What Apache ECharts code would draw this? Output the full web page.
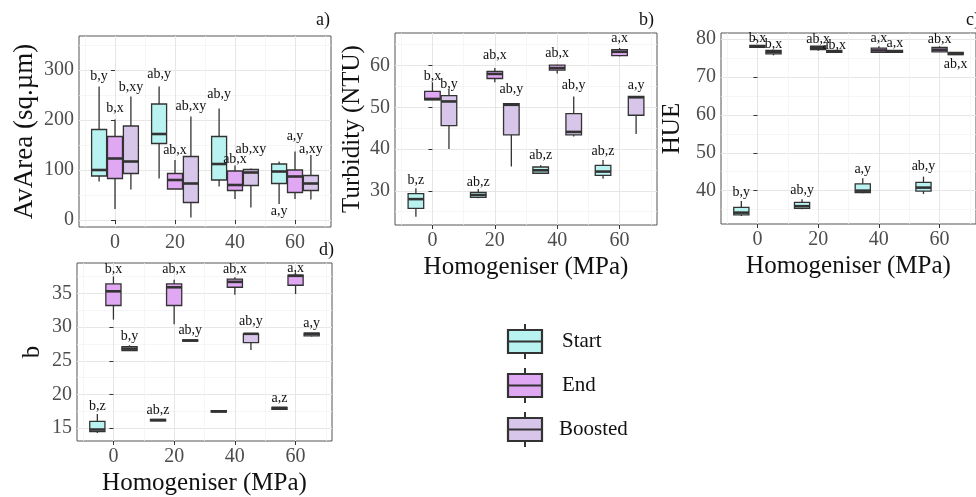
<!DOCTYPE html>
<html>
<head>
<meta charset="utf-8">
<script src="https://cdn.jsdelivr.net/npm/echarts@6/dist/echarts.min.js"></script>
<style>
html, body { margin: 0; padding: 0; background: #fff; }
#main { width: 976px; height: 497px; }
</style>
</head>
<body>
<div id="main"></div>
<script>
var pressures = [0, 20, 40, 60];
var xTicks = [0, 20, 40, 60];
var xMinor = [-10, 10, 30, 50, 70];
var groupNames = ['Start', 'End', 'Boosted'];
var groupColors = ['#b9f3f1', '#e0a7f3', '#d8c5ea'];

// box stats per pressure: [min, q1, median, q3, max]
// a) AvArea
var areaStart   = [[77, 88, 100, 181, 267], [83, 153, 172, 232, 267], [67, 80, 112, 167, 223], [32, 73, 97, 112, 117]];
var areaEnd     = [[22, 83, 123, 167, 201], [62, 62, 80, 93, 120], [42, 59, 70, 98, 109], [42, 55, 87, 100, 137]];
var areaBoosted = [[61, 93, 117, 188, 247], [5, 35, 73, 127, 207], [25, 69, 95, 101, 103], [41, 59, 73, 89, 130]];
var areaLabels  = [['b,y', 'ab,y', 'ab,y', 'a,y'], ['b,x', 'ab,x', 'ab,x', 'a,y'], ['b,xy', 'ab,xy', 'ab,xy', 'a,xy']];
var areaLabelY  = [[287, 292, 251, 18], [223, 140, 122, 168], [265, 228, 142, 142]];
var areaTicks = [0, 100, 200, 300];
var areaMinor = [50, 150, 250, 350];

// b) Turbidity
var turbStart   = [[23.8, 25.8, 28, 29.3, 30.6], [28.2, 28.4, 29, 29.6, 30.4], [34.1, 34.2, 34.9, 35.7, 36.1], [32.9, 33.7, 34.6, 36.1, 37.4]];
var turbEnd     = [[51.8, 51.8, 52, 53.8, 56], [56, 56.9, 58, 58.6, 59.4], [58.1, 58.9, 59.4, 60.1, 60.2], [62.2, 62.4, 63.3, 63.8, 64.2]];
var turbBoosted = [[40, 45.6, 51.4, 52.8, 54.4], [35.8, 43.4, 50.6, 50.9, 51], [43, 43.4, 44.1, 48.5, 52.6], [43.6, 48.1, 52.4, 52.6, 52.6]];
var turbLabels  = [['b,z', 'ab,z', 'ab,z', 'ab,z'], ['b,x', 'ab,x', 'ab,x', 'a,x'], ['b,y', 'ab,y', 'ab,y', 'a,y']];
var turbLabelY  = [[32.6, 32, 38.5, 39.4], [57.3, 62.4, 62.9, 66.6], [55.4, 54.2, 55.2, 55.2]];
var turbTicks = [30, 40, 50, 60];
var turbMinor = [25, 35, 45, 55, 65];

// c) HUE
var hueStart   = [[33.3, 33.6, 34.2, 35.6, 37.3], [35.1, 35.3, 35.9, 36.9, 37.7], [39.3, 39.5, 40, 41.8, 43.3], [39.1, 39.9, 40.8, 42.2, 43.7]];
var hueEnd     = [[77.8, 77.8, 78.1, 78.3, 78.3], [76.9, 77.2, 77.6, 78.1, 78.2], [76.5, 76.5, 77, 77.6, 78.1], [76.6, 76.6, 77.2, 77.8, 78.1]];
var hueBoosted = [[75.7, 76.1, 76.6, 77, 77.2], [76.5, 76.5, 76.7, 77, 77], [76.5, 76.5, 76.7, 77, 77], [75.9, 75.9, 76.1, 76.5, 76.5]];
var hueLabels  = [['b,y', 'ab,y', 'a,y', 'ab,y'], ['b,x', 'ab,x', 'a,x', 'ab,x'], ['b,x', 'ab,x', 'a,x', 'ab,x']];
var hueLabelY  = [[39.5, 40, 45.7, 46.3], [80.3, 79.8, 80.3, 79.8], [78.5, 78.3, 78.9, 73.4]];
var hueTicks = [40, 50, 60, 70, 80];
var hueMinor = [35, 45, 55, 65, 75];

// d) b
var bStart   = [[14.3, 14.5, 14.8, 16, 17.1], [16.1, 16.1, 16.2, 16.3, 16.3], [17.4, 17.4, 17.5, 17.6, 17.6], [17.8, 17.8, 18, 18.1, 18.1]];
var bEnd     = [[31.1, 33.2, 35.3, 36.4, 37.5], [30.4, 33.2, 35.9, 36.4, 37], [34.8, 35.9, 36.7, 37.1, 37.4], [34.9, 36.2, 37.6, 37.7, 38]];
var bBoosted = [[26.5, 26.5, 26.8, 27.1, 27.3], [27.9, 27.9, 28, 28.1, 28.1], [26.6, 27.7, 29, 29, 29.1], [28.6, 28.7, 29, 29.1, 29.1]];
var bLabels  = [['b,z', 'ab,z', '', 'a,z'], ['b,x', 'ab,x', 'ab,x', 'a,x'], ['b,y', 'ab,y', 'ab,y', 'a,y']];
var bLabelY  = [[18.2, 17.6, 17.6, 19.4], [38.6, 38.6, 38.6, 38.7], [28.6, 29.5, 30.8, 30.5]];
var bTicks = [15, 20, 25, 30, 35];
var bMinor = [17.5, 22.5, 27.5, 32.5, 37.5];

var FONT = 'Liberation Serif, Times New Roman, serif';
var dodge = [-5.3, 0, 5.3];
var boxW = 5;

var panels = [
	{ grid: { left: 79, top: 36, width: 252, height: 191 }, yMin: -14, yMax: 368, ticks: areaTicks, minor: areaMinor,
	  name: 'AvArea (sq.\u00b5m)', nameSize: 27, nameGap: 41, xName: '', stats: [areaStart, areaEnd, areaBoosted], labels: areaLabels, labelY: areaLabelY },
	{ grid: { left: 395, top: 33, width: 262, height: 192 }, yMin: 21.8, yMax: 67.8, ticks: turbTicks, minor: turbMinor,
	  name: 'Turbidity (NTU)', nameSize: 25, nameGap: 30, xName: 'Homogeniser (MPa)', stats: [turbStart, turbEnd, turbBoosted], labels: turbLabels, labelY: turbLabelY },
	{ grid: { left: 721, top: 33, width: 262, height: 191 }, yMin: 31.2, yMax: 81.6, ticks: hueTicks, minor: hueMinor,
	  name: 'HUE', nameSize: 25, nameGap: 36, xName: 'Homogeniser (MPa)', stats: [hueStart, hueEnd, hueBoosted], labels: hueLabels, labelY: hueLabelY },
	{ grid: { left: 77, top: 263, width: 255, height: 185 }, yMin: 13.1, yMax: 39.5, ticks: bTicks, minor: bMinor,
	  name: 'b', nameSize: 25, nameGap: 32, xName: 'Homogeniser (MPa)', stats: [bStart, bEnd, bBoosted], labels: bLabels, labelY: bLabelY }
];

var grids = [], xAxes = [], yAxes = [], series = [];

panels.forEach(function (p, gi) {
	grids.push({
		left: p.grid.left, top: p.grid.top, width: p.grid.width, height: p.grid.height,
		show: true, borderColor: '#555', borderWidth: 1, backgroundColor: '#fff'
	});
	// major x
	xAxes.push({
		type: 'value', gridIndex: gi, min: -12, max: 72, position: 'bottom',
		axisLine: { show: false },
		axisTick: { show: true, length: 4, lineStyle: { color: '#333' }, customValues: xTicks },
		axisLabel: { customValues: xTicks, color: '#4d4d4d', fontFamily: FONT, fontSize: 20, margin: 6 },
		splitLine: { show: true, lineStyle: { color: '#e6e6e6', width: 1 } },
		name: p.xName, nameLocation: 'middle', nameGap: 30,
		nameTextStyle: { color: '#111', fontFamily: FONT, fontSize: 25 }
	});
	// minor x
	xAxes.push({
		type: 'value', gridIndex: gi, min: -12, max: 72, position: 'top',
		axisLine: { show: false },
		axisTick: { show: false, customValues: xMinor },
		axisLabel: { show: false, customValues: xMinor },
		splitLine: { show: true, lineStyle: { color: '#f2f2f2', width: 0.7 } }
	});
	yAxes.push({
		type: 'value', gridIndex: gi, min: p.yMin, max: p.yMax, position: 'left',
		axisLine: { show: false },
		axisTick: { show: true, length: 4, lineStyle: { color: '#333' }, customValues: p.ticks },
		axisLabel: { customValues: p.ticks, color: '#4d4d4d', fontFamily: FONT, fontSize: 20, margin: 5 },
		splitLine: { show: true, lineStyle: { color: '#e6e6e6', width: 1 } },
		name: p.name, nameLocation: 'middle', nameGap: p.nameGap,
		nameTextStyle: { color: '#111', fontFamily: FONT, fontSize: p.nameSize }
	});
	yAxes.push({
		type: 'value', gridIndex: gi, min: p.yMin, max: p.yMax, position: 'right',
		axisLine: { show: false },
		axisTick: { show: false, customValues: p.minor },
		axisLabel: { show: false, customValues: p.minor },
		splitLine: { show: true, lineStyle: { color: '#f2f2f2', width: 0.7 } }
	});

	p.stats.forEach(function (stats, k) {
		series.push({
			type: 'custom', name: groupNames[k], xAxisIndex: gi * 2, yAxisIndex: gi * 2, z: 3,
			data: stats.map(function (s, i) { return [pressures[i] + dodge[k]].concat(s); }),
			encode: { x: 0, y: [1, 2, 3, 4, 5] },
			renderItem: function (params, api) {
				var x = api.value(0);
				var w = api.size([boxW, 0])[0];
				var pMin = api.coord([x, api.value(1)]);
				var pQ1 = api.coord([x, api.value(2)]);
				var pMed = api.coord([x, api.value(3)]);
				var pQ3 = api.coord([x, api.value(4)]);
				var pMax = api.coord([x, api.value(5)]);
				var cx = pMed[0];
				var stroke = { stroke: '#333', lineWidth: 1.3 };
				return {
					type: 'group',
					children: [
						{ type: 'line', shape: { x1: cx, y1: pMax[1], x2: cx, y2: pQ3[1] }, style: stroke },
						{ type: 'line', shape: { x1: cx, y1: pQ1[1], x2: cx, y2: pMin[1] }, style: stroke },
						{ type: 'rect', shape: { x: cx - w / 2, y: pQ3[1], width: w, height: Math.max(pQ1[1] - pQ3[1], 1) },
						  style: { fill: groupColors[k], stroke: '#333', lineWidth: 1.3 } },
						{ type: 'line', shape: { x1: cx - w / 2, y1: pMed[1], x2: cx + w / 2, y2: pMed[1] },
						  style: { stroke: '#333', lineWidth: 2.6 } }
					]
				};
			}
		});
		var labs = p.labels[k];
		series.push({
			type: 'custom', xAxisIndex: gi * 2, yAxisIndex: gi * 2, z: 4, silent: true,
			data: p.labelY[k].map(function (v, i) { return [pressures[i] + dodge[k], v]; }),
			renderItem: function (params, api) {
				var pt = api.coord([api.value(0), api.value(1)]);
				return {
					type: 'text', x: pt[0], y: pt[1],
					style: { text: labs[params.dataIndex], fill: '#111', font: '14px ' + FONT, align: 'center', verticalAlign: 'middle' }
				};
			}
		});
	});
});

// legend and panel letters
var graphics = [
	{ type: 'text', left: 316, top: 11, style: { text: 'a)', fill: '#111', font: '18px ' + FONT } },
	{ type: 'text', left: 639, top: 11, style: { text: 'b)', fill: '#111', font: '18px ' + FONT } },
	{ type: 'text', left: 966, top: 11, style: { text: 'c)', fill: '#111', font: '18px ' + FONT } },
	{ type: 'text', left: 319, top: 241, style: { text: 'd)', fill: '#111', font: '18px ' + FONT } }
];
var legendTop = [330, 374, 418];
groupNames.forEach(function (n, k) {
	var t = legendTop[k];
	graphics.push({ type: 'line', shape: { x1: 525, y1: t - 6, x2: 525, y2: t + 29 }, style: { stroke: '#333', lineWidth: 2 } });
	graphics.push({ type: 'rect', shape: { x: 508, y: t, width: 34, height: 23 }, style: { fill: groupColors[k], stroke: '#333', lineWidth: 2.2 } });
	graphics.push({ type: 'line', shape: { x1: 508, y1: t + 11.5, x2: 542, y2: t + 11.5 }, style: { stroke: '#333', lineWidth: 2.2 } });
	graphics.push({ type: 'text', x: k === 2 ? 559 : 562, y: t + 11.5, style: { text: n, fill: '#111', font: '21px ' + FONT, verticalAlign: 'middle' } });
});

var myChart = echarts.init(document.getElementById('main'));
myChart.setOption({
	backgroundColor: '#fff',
	animation: false,
	grid: grids,
	xAxis: xAxes,
	yAxis: yAxes,
	series: series,
	graphic: graphics
});
</script>
</body>
</html>
